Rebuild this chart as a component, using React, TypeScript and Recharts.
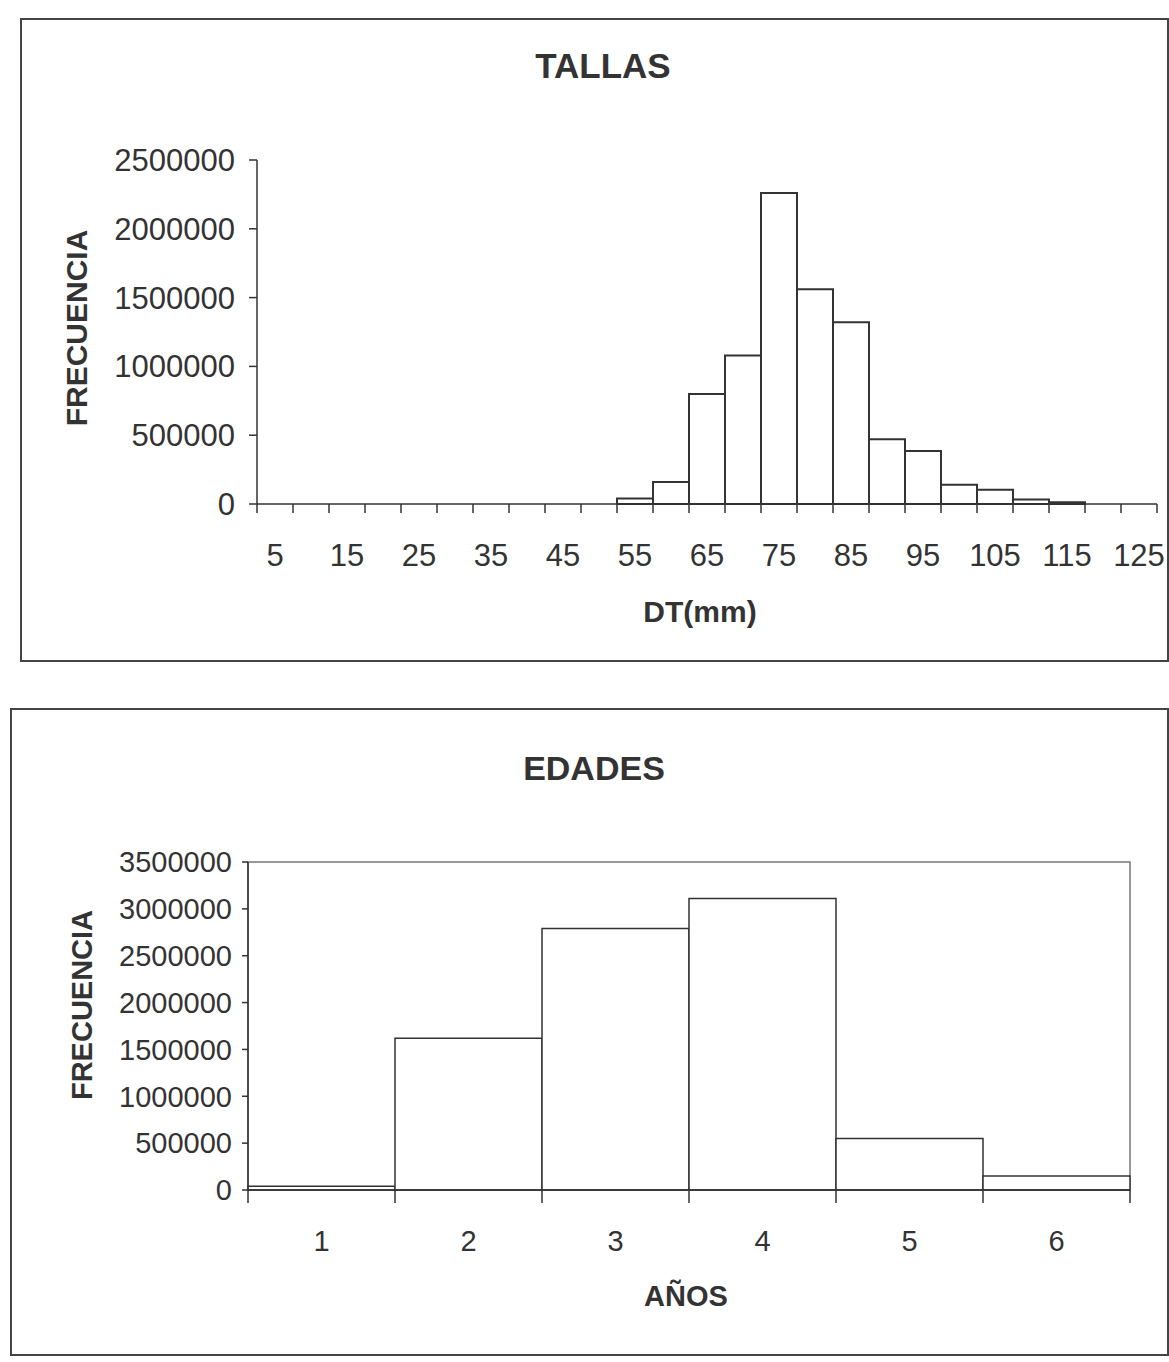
import { BarChart, Bar, XAxis, YAxis, ReferenceArea } from "recharts";

// TALLAS: frecuencia por clase de talla DT (mm)
const tallasCategorias = [
  "5", "10", "15", "20", "25", "30", "35", "40", "45", "50", "55", "60", "65",
  "70", "75", "80", "85", "90", "95", "100", "105", "110", "115", "120", "125",
];
const tallasFrecuencia = [
  0, 0, 0, 0, 0, 0, 0, 0, 0, 0, 40000, 160000, 800000,
  1080000, 2260000, 1560000, 1320000, 470000, 385000, 140000, 104000, 32000, 12000, 0, 0,
];
const tallasTicksY = [0, 500000, 1000000, 1500000, 2000000, 2500000];

// EDADES: frecuencia por edad (años)
const edadesCategorias = ["1", "2", "3", "4", "5", "6"];
const edadesFrecuencia = [40000, 1620000, 2790000, 3110000, 550000, 150000];
const edadesTicksY = [0, 500000, 1000000, 1500000, 2000000, 2500000, 3000000, 3500000];

const FONT = '"Liberation Sans", Arial, Helvetica, sans-serif';
const INK = "#333";

const tallasData = tallasCategorias.map((c, i) => ({ clase: c, valor: tallasFrecuencia[i] }));
const edadesData = edadesCategorias.map((c, i) => ({ edad: c, valor: edadesFrecuencia[i] }));

// tick marks on the bin edges, label in the middle of the bin
function EdgeTick(props: any) {
  const { x, y, payload, index, count, every, len, labelSize, labelDy } = props;
  const half = payload?.offset ?? 0;
  const showLabel = index % every === 0;
  return (
    <g>
      <line x1={x - half} y1={y} x2={x - half} y2={y + len} stroke={INK} strokeWidth={1.5} />
      {index === count - 1 && (
        <line x1={x + half} y1={y} x2={x + half} y2={y + len} stroke={INK} strokeWidth={1.5} />
      )}
      {showLabel && (
        <text
          x={x}
          y={y + labelDy}
          textAnchor="middle"
          dominantBaseline="central"
          fontSize={labelSize}
          fontFamily={FONT}
          fill={INK}
        >
          {payload.value}
        </text>
      )}
    </g>
  );
}

function Title({ text, cx, cy, size, rotate }: any) {
  return (
    <div
      style={{
        position: "absolute",
        left: cx - 200,
        top: cy - 25,
        width: 400,
        height: 50,
        lineHeight: "50px",
        textAlign: "center",
        fontSize: size,
        fontWeight: "bold",
        color: INK,
        transform: rotate ? "rotate(-90deg)" : undefined,
        whiteSpace: "nowrap",
      }}
    >
      {text}
    </div>
  );
}

const frame = (left: number, top: number, width: number, height: number) => ({
  position: "absolute" as const,
  left,
  top,
  width,
  height,
  border: "2px solid #444",
  boxSizing: "border-box" as const,
});

export default function App() {
  return (
    <div
      style={{
        position: "absolute",
        left: 0,
        top: 0,
        width: 1169,
        height: 1362,
        background: "#fff",
        fontFamily: FONT,
        overflow: "hidden",
      }}
    >
      <div style={frame(20, 18, 1149, 644)} />
      <div style={frame(10, 708, 1159, 648)} />

      {/* TALLAS */}
      <div style={{ position: "absolute", left: 0, top: 0 }}>
        <BarChart
          width={1169}
          height={660}
          data={tallasData}
          margin={{ top: 160, right: 12, left: 0, bottom: 0 }}
          barCategoryGap={0}
        >
          <XAxis
            dataKey="clase"
            height={156}
            interval={0}
            tickSize={0}
            tickMargin={0}
            tickLine={false}
            axisLine={{ stroke: INK, strokeWidth: 1.5 }}
            tick={<EdgeTick count={tallasCategorias.length} every={2} len={9} labelSize={31} labelDy={51} />}
          />
          <YAxis
            width={257}
            domain={[0, 2500000]}
            ticks={tallasTicksY}
            interval={0}
            tickSize={8}
            tickMargin={14}
            axisLine={{ stroke: INK, strokeWidth: 1.5 }}
            tickLine={{ stroke: INK, strokeWidth: 1.5 }}
            tick={{ fontSize: 31, fill: INK, fontFamily: FONT }}
          />
          <Bar dataKey="valor" fill="#fff" stroke={INK} strokeWidth={2} isAnimationActive={false} />
        </BarChart>
      </div>
      <Title text="TALLAS" cx={603} cy={66} size={35} />
      <Title text="FRECUENCIA" cx={77} cy={328} size={30} rotate />
      <Title text="DT(mm)" cx={700} cy={612} size={30} />

      {/* EDADES */}
      <div style={{ position: "absolute", left: 0, top: 700 }}>
        <BarChart
          width={1169}
          height={660}
          data={edadesData}
          margin={{ top: 162, right: 39, left: 0, bottom: 0 }}
          barCategoryGap={0}
        >
          <XAxis
            dataKey="edad"
            height={170}
            interval={0}
            tickSize={0}
            tickMargin={0}
            tickLine={false}
            axisLine={{ stroke: INK, strokeWidth: 1.5 }}
            tick={<EdgeTick count={edadesCategorias.length} every={1} len={13} labelSize={29} labelDy={51} />}
          />
          <YAxis
            width={248}
            domain={[0, 3500000]}
            ticks={edadesTicksY}
            interval={0}
            tickSize={6}
            tickMargin={10}
            axisLine={{ stroke: INK, strokeWidth: 1.5 }}
            tickLine={{ stroke: INK, strokeWidth: 1.5 }}
            tick={{ fontSize: 29, fill: INK, fontFamily: FONT }}
          />
          <ReferenceArea
            y1={0}
            y2={3500000}
            fill="none"
            stroke="#777"
            strokeWidth={1.5}
            ifOverflow="visible"
          />
          <Bar dataKey="valor" fill="#fff" stroke={INK} strokeWidth={1.5} isAnimationActive={false} />
        </BarChart>
      </div>
      <Title text="EDADES" cx={594} cy={768} size={34} />
      <Title text="FRECUENCIA" cx={82} cy={1005} size={29} rotate />
      <Title text="AÑOS" cx={686} cy={1296} size={29} />
    </div>
  );
}
